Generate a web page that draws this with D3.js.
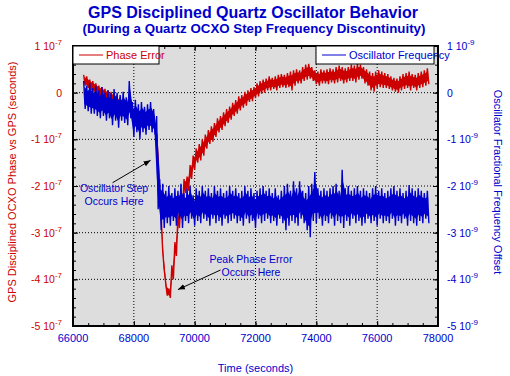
<!DOCTYPE html>
<html>
<head>
<meta charset="utf-8">
<script src="https://cdn.jsdelivr.net/npm/d3@7"></script>
<style>
  body { margin:0; background:#fff; }
  text { font-family: "Liberation Sans", Arial, sans-serif; }
</style>
</head>
<body>
<div id="chart-div"></div>
<script>
// sampling: one hi/lo pair every 100 s, starting 66350 s
var t_start = 66350, t_step = 100;

// phase error (units of 1e-7 s), upper / lower edge of the noisy trace
var phaseHi = [
  0.38,0.35,0.28,0.25,0.20,0.15,0.12,0.08,0.05,0.02,
  0.00,-0.05,-0.10,-0.12,-0.15,-0.20,-0.30,-0.40,-0.45,-0.40,
  -0.35,-0.40,-0.42,-0.50,-0.90,-2.20,-3.40,-4.10,-4.20,-3.70,
  -3.20,-2.60,-2.25,-1.85,-1.80,-1.55,-1.35,-1.20,-1.10,-1.00,
  -0.90,-0.80,-0.72,-0.65,-0.55,-0.50,-0.42,-0.35,-0.30,-0.22,
  -0.16,-0.08,-0.05,0.02,0.05,0.10,0.12,0.20,0.25,0.28,
  0.30,0.35,0.32,0.35,0.38,0.40,0.38,0.42,0.45,0.48,
  0.50,0.48,0.55,0.60,0.62,0.55,0.48,0.45,0.50,0.48,
  0.50,0.52,0.50,0.55,0.58,0.55,0.52,0.55,0.60,0.58,
  0.62,0.60,0.55,0.50,0.45,0.42,0.45,0.48,0.45,0.42,
  0.40,0.35,0.32,0.30,0.35,0.40,0.42,0.45,0.40,0.38,
  0.42,0.45,0.48,0.52
];
var phaseLo = [
  0.15,0.10,0.05,0.02,-0.02,-0.08,-0.10,-0.15,-0.20,-0.22,
  -0.30,-0.45,-0.45,-0.40,-0.42,-0.50,-0.60,-0.80,-0.88,-0.75,
  -0.70,-0.72,-0.70,-0.80,-1.40,-2.70,-3.80,-4.35,-4.40,-4.00,
  -3.50,-2.90,-2.55,-2.15,-2.10,-1.85,-1.65,-1.50,-1.45,-1.35,
  -1.20,-1.10,-1.05,-0.95,-0.85,-0.80,-0.72,-0.65,-0.58,-0.50,
  -0.45,-0.38,-0.32,-0.28,-0.20,-0.18,-0.12,-0.08,-0.02,0.00,
  0.05,0.05,0.08,0.05,0.10,0.12,0.10,0.12,0.05,0.15,
  0.20,0.20,0.25,0.28,0.30,0.25,0.18,0.15,0.20,0.20,
  0.18,0.22,0.20,0.22,0.25,0.20,0.22,0.25,0.25,0.22,
  0.28,0.30,0.20,0.15,0.05,0.02,0.10,0.12,0.10,0.10,
  0.08,0.05,0.02,0.00,0.05,0.08,0.10,0.05,0.10,0.05,
  0.10,0.12,0.15,0.18
];

// oscillator fractional frequency (units of 1e-9)
var freqHi = [
  0.25,0.15,0.20,0.10,0.15,0.05,0.12,0.00,0.05,-0.02,
  0.08,0.00,-0.05,0.02,-0.10,0.25,-0.20,-0.15,-0.25,-0.20,
  -0.30,-0.25,-0.20,-0.35,-0.50,-1.85,-1.95,-2.10,-2.00,-2.15,
  -2.05,-2.10,-1.95,-2.15,-2.05,-2.00,-2.20,-2.05,-2.10,-2.00,
  -2.10,-2.05,-2.15,-2.00,-2.10,-2.05,-2.15,-2.10,-2.00,-2.10,
  -2.05,-2.15,-2.10,-2.00,-2.10,-2.05,-2.15,-2.10,-2.05,-2.00,
  -2.10,-2.05,-2.15,-2.05,-2.20,-2.10,-2.00,-1.95,-2.10,-1.90,
  -2.05,-1.90,-2.10,-2.15,-2.00,-1.95,-1.70,-2.05,-2.10,-2.05,
  -2.10,-2.05,-2.00,-1.95,-2.10,-1.65,-2.05,-2.00,-2.10,-2.05,
  -2.00,-2.10,-2.05,-2.10,-2.15,-2.05,-2.00,-2.10,-2.05,-2.15,
  -2.10,-2.05,-2.00,-2.10,-2.05,-2.15,-2.10,-1.98,-2.05,-2.10,
  -2.05,-2.10,-2.15,-2.10
];
var freqLo = [
  -0.35,-0.40,-0.45,-0.45,-0.50,-0.55,-0.50,-0.60,-0.55,-0.70,
  -0.60,-0.75,-0.60,-0.65,-0.70,-0.55,-0.95,-0.85,-1.00,-0.85,
  -0.90,-0.80,-0.85,-0.90,-2.50,-2.95,-2.90,-2.80,-2.85,-2.75,
  -2.85,-2.70,-2.90,-2.75,-2.80,-2.70,-2.85,-2.75,-2.80,-2.70,
  -2.75,-2.85,-2.70,-2.80,-2.75,-2.85,-2.70,-2.80,-2.75,-2.70,
  -2.80,-2.75,-2.85,-2.70,-2.80,-2.75,-2.90,-2.70,-2.80,-2.75,
  -2.70,-2.80,-2.75,-2.85,-2.70,-2.80,-2.95,-2.85,-2.75,-2.80,
  -2.85,-2.70,-2.80,-2.95,-3.10,-2.75,-2.80,-2.70,-2.85,-2.75,
  -2.80,-2.70,-2.85,-2.75,-2.80,-2.90,-2.75,-2.85,-2.70,-2.80,
  -2.75,-2.85,-2.80,-2.70,-2.80,-2.75,-2.85,-2.70,-2.80,-2.75,
  -2.80,-2.70,-2.85,-2.75,-2.80,-2.70,-2.85,-2.75,-2.80,-2.85,
  -2.75,-2.80,-2.70,-2.80
];

var xTicks = [66000,68000,70000,72000,74000,76000,78000];
var yTicks = [1,0,-1,-2,-3,-4,-5];

var RED = "#cc0000", BLUE = "#0000cc";

var c_width = 510, c_height = 376;
var margin = {top:46, right:72, bottom:50, left:73};
var border = {
  width  : c_width - margin.left - margin.right,
  height : c_height - margin.top - margin.bottom
};

var canvas = d3.select("#chart-div").append("svg")
  .attr("width", c_width)
  .attr("height", c_height);

var x_scale = d3.scaleLinear().domain([66000,78000]).range([0, border.width]);
var y_scale = d3.scaleLinear().domain([-5,1]).range([border.height, 0]);

var main_g = canvas.append("g")
  .attr("transform", "translate("+margin.left+","+margin.top+")");

main_g.append("rect")
  .attr("width", border.width)
  .attr("height", border.height)
  .style("fill", "#dddddd");

main_g.append("clipPath").attr("id","plot-clip")
  .append("rect").attr("width", border.width).attr("height", border.height);

// dotted grid
main_g.selectAll(".grid-x")
  .data(xTicks.slice(1,-1)).enter()
  .append("line")
  .attr("x1", d=>x_scale(d)).attr("x2", d=>x_scale(d))
  .attr("y1", 0).attr("y2", border.height)
  .style("stroke","#000").style("stroke-dasharray","1,2");
main_g.selectAll(".grid-y")
  .data(yTicks.slice(1,-1)).enter()
  .append("line")
  .attr("y1", d=>y_scale(d)).attr("y2", d=>y_scale(d))
  .attr("x1", 0).attr("x2", border.width)
  .style("stroke","#000").style("stroke-dasharray","1,2");

// noisy traces: solid band between the edges plus a zigzag for the ragged rim
function zigzag(hi, lo) {
  var pts = [];
  hi.forEach((h,i)=>{
    var t = t_start + i*t_step;
    pts.push([t, h]);
    pts.push([t + t_step/2, lo[i]]);
  });
  return pts;
}
function band(hi, lo) {
  return hi.map((h,i)=>({t: t_start + i*t_step + t_step/4, hi: h, lo: lo[i]}));
}
var line_generator = d3.line()
  .x(d=>x_scale(d[0]))
  .y(d=>y_scale(d[1]));
var area_generator = d3.area()
  .x(d=>x_scale(d.t))
  .y0(d=>y_scale(d.lo + (d.hi-d.lo)*0.2))
  .y1(d=>y_scale(d.hi - (d.hi-d.lo)*0.2));

var traces = main_g.append("g").attr("clip-path","url(#plot-clip)");
[[phaseHi, phaseLo, RED], [freqHi, freqLo, BLUE]].forEach(([hi, lo, col])=>{
  traces.append("path")
    .attr("d", area_generator(band(hi, lo)))
    .style("fill", col);
  traces.append("path")
    .attr("d", line_generator(zigzag(hi, lo)))
    .style("fill","none").style("stroke", col).style("stroke-width", 1.4);
});

// inward ticks on all four sides
var axisStyle = g => {
  g.select(".domain").remove();
  g.selectAll("text").remove();
  g.selectAll("line").style("stroke","#000");
};
var minorX = d3.range(66000, 78001, 500), minorY = d3.range(-5, 1.001, 0.2);
[[d3.axisBottom, 0], [d3.axisTop, border.height]].forEach(([ax, off])=>{
  main_g.append("g").attr("transform","translate(0,"+off+")")
    .call(ax(x_scale).tickValues(minorX).tickSize(3)).call(axisStyle);
  main_g.append("g").attr("transform","translate(0,"+off+")")
    .call(ax(x_scale).tickValues(xTicks).tickSize(5)).call(axisStyle);
});
[[d3.axisRight, 0], [d3.axisLeft, border.width]].forEach(([ax, off])=>{
  main_g.append("g").attr("transform","translate("+off+",0)")
    .call(ax(y_scale).tickValues(minorY).tickSize(3)).call(axisStyle);
  main_g.append("g").attr("transform","translate("+off+",0)")
    .call(ax(y_scale).tickValues(yTicks).tickSize(5)).call(axisStyle);
});

main_g.append("rect")
  .attr("width", border.width)
  .attr("height", border.height)
  .style("fill","none").style("stroke","#000").style("stroke-width",2);

// tick labels
function sciLabel(sel, v, exp) {
  if (v === 0) { sel.text("0"); return; }
  sel.append("tspan").text(v + " 10");
  sel.append("tspan").attr("dy",-5).style("font-size","8px").text(exp);
}
main_g.selectAll(".ylab-left")
  .data(yTicks).enter().append("text")
  .attr("x", -11).attr("y", d=>y_scale(d)+4)
  .attr("text-anchor","end")
  .style("font-size","10.5px").style("fill", RED)
  .each(function(d){ sciLabel(d3.select(this), d, "-7"); });
main_g.selectAll(".ylab-right")
  .data(yTicks).enter().append("text")
  .attr("x", border.width+9).attr("y", d=>y_scale(d)+4)
  .attr("text-anchor","start")
  .style("font-size","10.5px").style("fill", BLUE)
  .each(function(d){ sciLabel(d3.select(this), d, "-9"); });
main_g.selectAll(".xlab")
  .data(xTicks).enter().append("text")
  .attr("x", d=>x_scale(d)).attr("y", border.height+16)
  .attr("text-anchor","middle")
  .style("font-size","11px").style("fill", BLUE)
  .text(d=>d);

// axis titles
canvas.append("text")
  .attr("x", margin.left + border.width/2).attr("y", 372)
  .attr("text-anchor","middle")
  .style("font-size","11px").style("fill", BLUE)
  .text("Time (seconds)");
canvas.append("text")
  .attr("transform","translate(16,"+(margin.top+border.height/2-4)+") rotate(-90)")
  .attr("text-anchor","middle")
  .style("font-size","11px").style("fill", RED)
  .text("GPS Disciplined OCXO Phase vs GPS (seconds)");
canvas.append("text")
  .attr("transform","translate(494,"+(margin.top+border.height/2-4)+") rotate(90)")
  .attr("text-anchor","middle")
  .style("font-size","11px").style("fill", BLUE)
  .text("Oscillator Fractional Frequency Offset");

// titles
canvas.append("text")
  .attr("x", 253).attr("y", 18)
  .attr("text-anchor","middle")
  .style("font-size","16px").style("font-weight","bold").style("fill", BLUE)
  .text("GPS Disciplined Quartz Oscillator Behavior");
canvas.append("text")
  .attr("x", 254).attr("y", 33)
  .attr("text-anchor","middle")
  .style("font-size","13.3px").style("font-weight","bold").style("fill", BLUE)
  .text("(During a Quartz OCXO Step Frequency Discontinuity)");

// legends
var legends = [
  {name:"Phase Error", color:RED, x:0, w:86},
  {name:"Oscillator Frequency", color:BLUE, x:243, w:118}
];
var leg = main_g.selectAll(".legend")
  .data(legends).enter().append("g")
  .attr("transform", d=>"translate("+d.x+",0)");
leg.append("rect")
  .attr("width", d=>d.w).attr("height", 18)
  .style("fill","#fff").style("stroke","#000");
leg.append("line")
  .attr("x1", 6).attr("x2", 30).attr("y1", 9).attr("y2", 9)
  .style("stroke", d=>d.color);
leg.append("text")
  .attr("x", 33).attr("y", 13)
  .style("font-size","11px").style("fill", d=>d.color)
  .text(d=>d.name);

// annotations
canvas.append("defs").append("marker")
  .attr("id","arrow").attr("viewBox","0 0 10 10")
  .attr("refX",10).attr("refY",5)
  .attr("markerWidth",7).attr("markerHeight",7)
  .attr("orient","auto")
  .append("path").attr("d","M0,1L10,5L0,9z").style("fill","#000");

var notes = [
  {lines:["Oscillator Step","Occurs Here"], t:67350, v:-2.13, from:[67300,-1.93], to:[68550,-1.45]},
  {lines:["Peak Phase Error","Occurs Here"], t:71850, v:-3.65, from:[70850,-3.80], to:[69450,-4.22]}
];
notes.forEach(n=>{
  main_g.append("line")
    .attr("x1", x_scale(n.from[0])).attr("y1", y_scale(n.from[1]))
    .attr("x2", x_scale(n.to[0])).attr("y2", y_scale(n.to[1]))
    .style("stroke","#000").attr("marker-end","url(#arrow)");
  main_g.append("text")
    .attr("x", x_scale(n.t)).attr("y", y_scale(n.v))
    .attr("text-anchor","middle")
    .style("font-size","10.5px").style("fill", BLUE)
    .selectAll("tspan").data(n.lines).enter().append("tspan")
    .attr("x", x_scale(n.t)).attr("dy", (d,i)=>i==0?0:13)
    .text(d=>d);
});
</script>
</body>
</html>
